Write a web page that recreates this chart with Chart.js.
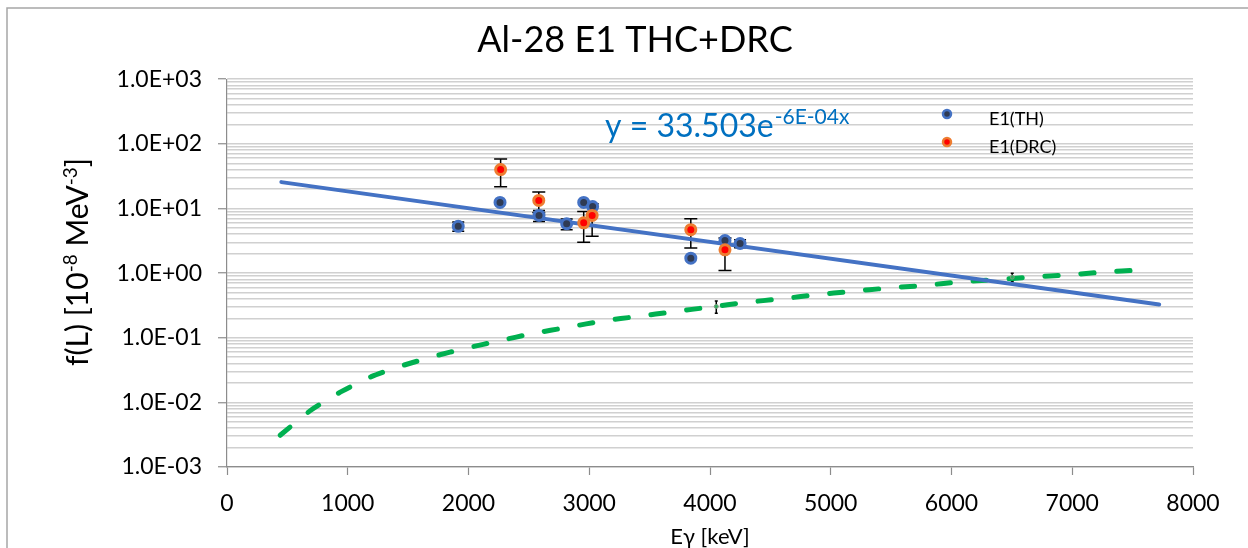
<!DOCTYPE html>
<html>
<head>
<meta charset="utf-8">
<title>Al-28 E1 THC+DRC</title>
<script src="https://cdn.jsdelivr.net/npm/chart.js@4.4.1/dist/chart.umd.min.js"></script>
<style>
  html, body { margin: 0; padding: 0; background: #ffffff; }
  #wrap { width: 1248px; height: 548px; }
</style>
</head>
<body>
<div id="wrap"><canvas id="c" width="1248" height="548"></canvas></div>
<script>
// ---- E1 photon strength, Al-28 ----
// Thermal-capture (TH) points: gamma energy [keV], f(L) [1e-8 MeV^-3], uncertainty
const thEnergy = [1915, 2261, 2584, 2813, 2954, 3028, 3841, 4124, 4249];
const thValue  = [5.3, 12.4, 7.8, 5.8, 12.4, 10.7, 1.7, 3.19, 2.87];
const thError  = [0.85, 0, 1.5, 1.1, 0, 0, 0, 0, 0.4];

// DRC points
const drcEnergy = [2266, 2582, 2954, 3024, 3841, 4124];
const drcValue  = [40, 13.3, 6.0, 7.8, 4.7, 2.29];
const drcError  = [18.3, 4.6, 3.0, 4.07, 2.25, 1.19];

// Model strength curve (dashed green)
const modelEnergy = [440, 700, 950, 1200, 1450, 1710, 1985, 2260, 2530, 2830, 3120, 3400, 3700, 4000,
                     4290, 4590, 4880, 5170, 5470, 5770, 6060, 6360, 6660, 6970, 7260, 7560, 7640];
const modelValue  = [0.0031, 0.0077, 0.0148, 0.0252, 0.0369, 0.0513, 0.0692, 0.0900, 0.116, 0.146, 0.183, 0.213, 0.253, 0.298,
                     0.351, 0.400, 0.462, 0.520, 0.586, 0.643, 0.730, 0.790, 0.867, 0.940, 1.035, 1.125, 1.24];

// Two model points carrying small uncertainties
const calcEnergy = [4052, 6503];
const calcValue  = [0.305, 0.867];
const calcError  = [0.065, 0.13];

// Exponential trendline of the TH points: y = A * exp(B * x)
const fitA = 33.503;
const fitB = -6e-4;
const fitRange = [450, 7720];

// Axis ticks
const xMin = 0, xMax = 8000, xStep = 1000;
const yDecadeValues = [0.001, 0.01, 0.1, 1, 10, 100, 1000];
const yDecadeLabels = ['1.0E-03', '1.0E-02', '1.0E-01', '1.0E+00', '1.0E+01', '1.0E+02', '1.0E+03'];
const yMinorSteps = [1, 2, 3, 4, 5, 6, 7, 8, 9];

const FONT = 'Lato';

const toPoints = (xs, ys) => xs.map((x, i) => ({ x: x, y: ys[i] }));

// Excel-style exponent text, e.g. -6E-04
function excelExp(v) {
  const [m, e] = v.toExponential(0).split('e');
  const n = parseInt(e, 10);
  return m + 'E' + (n < 0 ? '-' : '+') + String(Math.abs(n)).padStart(2, '0');
}

// Vertical error bars, drawn beneath all markers
const errorBars = {
  id: 'errorBars',
  beforeDatasetsDraw(chart) {
    const xs = chart.scales.x, ys = chart.scales.y, ctx = chart.ctx;
    ctx.save();
    ctx.strokeStyle = '#000000';
    ctx.lineWidth = 1.5;
    chart.data.datasets.forEach(ds => {
      if (!ds.errors) return;
      ds.data.forEach((p, i) => {
        const e = ds.errors[i];
        if (!e) return;
        const x = xs.getPixelForValue(p.x);
        const yTop = ys.getPixelForValue(p.y + e);
        const yBot = ys.getPixelForValue(p.y - e);
        const cap = ds.errorCap;
        ctx.beginPath();
        ctx.moveTo(x, yTop); ctx.lineTo(x, yBot);
        ctx.moveTo(x - cap, yTop); ctx.lineTo(x + cap, yTop);
        ctx.moveTo(x - cap, yBot); ctx.lineTo(x + cap, yBot);
        ctx.stroke();
      });
    });
    ctx.restore();
  }
};

// White background and frame
const frame = {
  id: 'frame',
  beforeDraw(chart) {
    const ctx = chart.ctx;
    ctx.save();
    ctx.fillStyle = '#ffffff';
    ctx.fillRect(0, 0, chart.width, chart.height);
    ctx.strokeStyle = '#a6a6a6';
    ctx.lineWidth = 1.5;
    ctx.beginPath();
    ctx.moveTo(7, chart.height); ctx.lineTo(7, 8); ctx.lineTo(chart.width, 8);
    ctx.stroke();
    ctx.restore();
  }
};

// Y axis title with superscripts
const yAxisTitle = {
  id: 'yAxisTitle',
  afterDraw(chart) {
    const ctx = chart.ctx;
    const parts = [
      { t: 'f(L) [10', size: 30, rise: 0 },
      { t: '-8', size: 19, rise: 11 },
      { t: ' MeV', size: 30, rise: 0 },
      { t: '-3', size: 19, rise: 11 },
      { t: ']', size: 30, rise: 0 }
    ];
    ctx.save();
    ctx.translate(88, 262);
    ctx.rotate(-Math.PI / 2);
    ctx.fillStyle = '#000000';
    ctx.textAlign = 'left';
    ctx.textBaseline = 'alphabetic';
    let total = 0;
    parts.forEach(p => { ctx.font = p.size + 'px ' + FONT; p.w = ctx.measureText(p.t).width; total += p.w; });
    let x = -total / 2;
    parts.forEach(p => { ctx.font = p.size + 'px ' + FONT; ctx.fillText(p.t, x, -p.rise); x += p.w; });
    ctx.restore();
  }
};

// Trendline equation label
const fitLabel = {
  id: 'fitLabel',
  afterDraw(chart) {
    const ctx = chart.ctx;
    const main = 'y = ' + fitA + 'e';
    const sup = excelExp(fitB) + 'x';
    ctx.save();
    ctx.fillStyle = '#0070c0';
    ctx.textAlign = 'left';
    ctx.textBaseline = 'alphabetic';
    ctx.font = '32px ' + FONT;
    ctx.fillText(main, 605, 137);
    const w = ctx.measureText(main).width;
    ctx.font = '21px ' + FONT;
    ctx.fillText(sup, 605 + w + 1, 124);
    ctx.restore();
  }
};

// Legend for the two measured series, inside the plot area
const markerLegend = {
  id: 'markerLegend',
  afterDraw(chart) {
    const ctx = chart.ctx;
    const rows = [{ i: 0, y: 114 }, { i: 1, y: 142 }];
    ctx.save();
    rows.forEach(r => {
      const ds = chart.data.datasets[r.i];
      ctx.beginPath();
      ctx.arc(947, r.y, 4, 0, Math.PI * 2);
      ctx.fillStyle = ds.backgroundColor;
      ctx.fill();
      ctx.lineWidth = 2.5;
      ctx.strokeStyle = ds.borderColor;
      ctx.stroke();
      ctx.fillStyle = '#000000';
      ctx.font = '18px ' + FONT;
      ctx.textAlign = 'left';
      ctx.textBaseline = 'middle';
      ctx.fillText(ds.label, 989, r.y + 5);
    });
    ctx.restore();
  }
};

const isDecade = v => Math.abs(Math.log10(v) - Math.round(Math.log10(v))) < 1e-9;

new Chart(document.getElementById('c'), {
  type: 'scatter',
  data: {
    datasets: [
      {
        label: 'E1(TH)',
        data: toPoints(thEnergy, thValue),
        errors: thError,
        errorCap: 6,
        pointRadius: 5,
        pointBorderWidth: 3,
        borderColor: '#4472c4',
        backgroundColor: '#2f3b54',
        order: 1
      },
      {
        label: 'E1(DRC)',
        data: toPoints(drcEnergy, drcValue),
        errors: drcError,
        errorCap: 6.5,
        pointRadius: 5,
        pointBorderWidth: 3,
        borderColor: '#ed7d31',
        backgroundColor: '#ff0000',
        order: 0
      },
      {
        label: 'Expon. (E1(TH))',
        data: fitRange.map(x => ({ x: x, y: fitA * Math.exp(fitB * x) })),
        showLine: true,
        pointRadius: 0,
        borderColor: '#4472c4',
        borderWidth: 4,
        borderCapStyle: 'round',
        order: 2
      },
      {
        label: 'E1 model points',
        data: toPoints(calcEnergy, calcValue),
        errors: calcError,
        errorCap: 1.5,
        pointRadius: 2,
        pointBorderWidth: 1,
        borderColor: '#7f9f7f',
        backgroundColor: '#2fae5f',
        order: 3
      },
      {
        label: 'E1 model',
        data: toPoints(modelEnergy, modelValue),
        showLine: true,
        pointRadius: 0,
        borderColor: '#00b050',
        borderWidth: 5,
        borderDash: [13, 23],
        borderCapStyle: 'round',
        tension: 0.2,
        order: 4
      }
    ]
  },
  options: {
    responsive: false,
    animation: false,
    events: [],
    layout: { padding: { left: 77, right: 55, top: 0, bottom: 0 } },
    plugins: {
      legend: { display: false },
      tooltip: { enabled: false },
      title: {
        display: true,
        text: 'Al-28 E1 THC+DRC',
        color: '#000000',
        font: { family: FONT, size: 36, weight: 'normal', lineHeight: 1.2 },
        padding: { top: 19, bottom: 17 }
      }
    },
    scales: {
      x: {
        type: 'linear',
        min: xMin,
        max: xMax,
        afterFit(scale) { scale.height = 81; },
        ticks: {
          stepSize: xStep,
          color: '#000000',
          font: { family: FONT, size: 23 },
          padding: 15,
          maxRotation: 0,
          autoSkip: false,
          callback: value => String(value)
        },
        grid: {
          drawOnChartArea: false,
          drawTicks: true,
          tickLength: 8,
          tickColor: '#8c8c8c',
          tickWidth: 1.2
        },
        border: { color: '#8c8c8c', width: 1.2 },
        title: {
          display: true,
          text: 'Eγ [keV]',
          color: '#000000',
          font: { family: FONT, size: 22, lineHeight: 1.0 },
          padding: { top: 0, bottom: 0 }
        }
      },
      y: {
        type: 'logarithmic',
        min: yDecadeValues[0],
        max: yDecadeValues[yDecadeValues.length - 1],
        afterFit(scale) { scale.width = 150; },
        afterBuildTicks(scale) {
          const ticks = [];
          yDecadeValues.forEach((d, i) => {
            if (i === yDecadeValues.length - 1) { ticks.push({ value: d }); return; }
            yMinorSteps.forEach(k => ticks.push({ value: parseFloat((k * d).toPrecision(6)) }));
          });
          scale.ticks = ticks;
        },
        ticks: {
          autoSkip: false,
          color: '#000000',
          font: { family: FONT, size: 23 },
          padding: 16,
          callback(value) {
            const i = yDecadeValues.findIndex(d => Math.abs(d - value) / d < 1e-9);
            return i >= 0 ? yDecadeLabels[i] : '';
          }
        },
        grid: {
          color: '#d0d0d0',
          lineWidth: 1.5,
          drawTicks: true,
          tickLength: 9,
          tickColor: ctx => (ctx.tick && isDecade(ctx.tick.value)) ? '#8c8c8c' : 'rgba(0,0,0,0)',
          tickWidth: 1.2
        },
        border: { color: '#8c8c8c', width: 1.2 }
      }
    }
  },
  plugins: [frame, errorBars, yAxisTitle, fitLabel, markerLegend]
});
</script>
</body>
</html>
